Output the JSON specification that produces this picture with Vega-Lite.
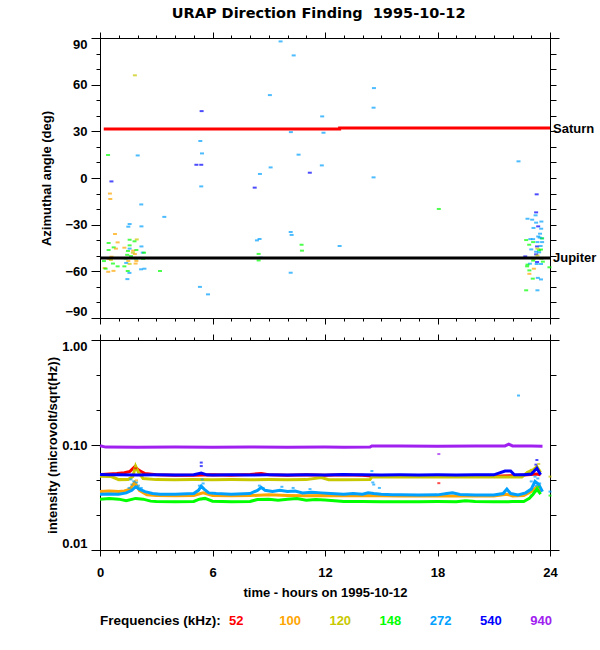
{
  "$schema": "https://vega.github.io/schema/vega-lite/v6.json",
  "padding": {"left": 40, "top": 6, "right": 2, "bottom": 2},
  "background": "white",
  "title": {
    "text": "URAP Direction Finding\u00a0 1995-10-12",
    "font": "DejaVu Sans",
    "fontSize": 14.5,
    "fontWeight": "bold",
    "color": "black",
    "anchor": "middle",
    "offset": 10
  },
  "datasets": {
    "df": [
      {"t": 1.86, "a": 66, "f": "120"},
      {"t": 5.42, "a": 43, "f": "540"},
      {"t": 0.43, "a": 14.8, "f": "148"},
      {"t": 2.01, "a": 14.5, "f": "272"},
      {"t": 0.61, "a": -2.2, "f": "540"},
      {"t": 0.53, "a": -10, "f": "100"},
      {"t": 0.55, "a": -13.5, "f": "100"},
      {"t": 2.2, "a": -17, "f": "272"},
      {"t": 3.43, "a": -25, "f": "272"},
      {"t": 1.58, "a": -29.6, "f": "272"},
      {"t": 1.51, "a": -31.3, "f": "272"},
      {"t": 2.21, "a": -31.1, "f": "272"},
      {"t": 5.35, "a": 23.8, "f": "272"},
      {"t": 5.44, "a": 15.8, "f": "272"},
      {"t": 5.14, "a": 8.5, "f": "540"},
      {"t": 5.4, "a": 8.5, "f": "540"},
      {"t": 5.4, "a": -5.4, "f": "272"},
      {"t": 5.33, "a": -70, "f": "272"},
      {"t": 5.76, "a": -74.8, "f": "272"},
      {"t": 3.2, "a": -59.8, "f": "148"},
      {"t": 1.46, "a": -65, "f": "272"},
      {"t": 0.8, "a": -36, "f": "100"},
      {"t": 0.46, "a": -41.8, "f": "148"},
      {"t": 0.94, "a": -41.4, "f": "100"},
      {"t": 0.73, "a": -44.6, "f": "148"},
      {"t": 0.85, "a": -45.4, "f": "100"},
      {"t": 0.46, "a": -46.3, "f": "148"},
      {"t": 0.61, "a": -50.6, "f": "100"},
      {"t": 0.46, "a": -52, "f": "100"},
      {"t": 0.21, "a": -53.4, "f": "148"},
      {"t": 0.58, "a": -52.7, "f": "120"},
      {"t": 0.69, "a": -55, "f": "148"},
      {"t": 0.94, "a": -56.8, "f": "148"},
      {"t": 0.25, "a": -57.9, "f": "100"},
      {"t": 0.3, "a": -58.3, "f": "148"},
      {"t": 0.44, "a": -60.3, "f": "100"},
      {"t": 0.72, "a": -59.7, "f": "100"},
      {"t": 1.58, "a": -39.7, "f": "148"},
      {"t": 1.3, "a": -44.8, "f": "100"},
      {"t": 1.58, "a": -43.3, "f": "148"},
      {"t": 1.58, "a": -45.4, "f": "272"},
      {"t": 1.49, "a": -46.9, "f": "148"},
      {"t": 1.77, "a": -46.7, "f": "100"},
      {"t": 1.94, "a": -46.3, "f": "148"},
      {"t": 1.96, "a": -39.5, "f": "120"},
      {"t": 1.84, "a": -40.7, "f": "148"},
      {"t": 1.45, "a": -49.4, "f": "148"},
      {"t": 1.86, "a": -48.9, "f": "100"},
      {"t": 2.28, "a": -48, "f": "272"},
      {"t": 2.35, "a": -48, "f": "148"},
      {"t": 1.37, "a": -51.8, "f": "148"},
      {"t": 1.4, "a": -54.6, "f": "272"},
      {"t": 1.51, "a": -53.3, "f": "100"},
      {"t": 1.92, "a": -51.8, "f": "148"},
      {"t": 1.94, "a": -53.3, "f": "100"},
      {"t": 1.58, "a": -55.2, "f": "120"},
      {"t": 1.9, "a": -55, "f": "100"},
      {"t": 2.19, "a": -58.7, "f": "272"},
      {"t": 2.37, "a": -58.3, "f": "272"},
      {"t": 1.3, "a": -56.8, "f": "148"},
      {"t": 1.48, "a": -59.8, "f": "148"},
      {"t": 1.57, "a": -61, "f": "272"},
      {"t": 2.21, "a": -44, "f": "272"},
      {"t": 2.1, "a": -51.4, "f": "148"},
      {"t": 2.3, "a": -52, "f": "148"},
      {"t": 1.65, "a": -50.2, "f": "148"},
      {"t": 1.75, "a": -48, "f": "120"},
      {"t": 9.63, "a": 87.8, "f": "272"},
      {"t": 10.33, "a": 78.8, "f": "272"},
      {"t": 14.61, "a": 57.8, "f": "272"},
      {"t": 9.06, "a": 53.3, "f": "272"},
      {"t": 14.59, "a": 45.2, "f": "272"},
      {"t": 11.85, "a": 39.6, "f": "272"},
      {"t": 10.18, "a": 29.5, "f": "272"},
      {"t": 11.92, "a": 29.1, "f": "272"},
      {"t": 10.59, "a": 15, "f": "272"},
      {"t": 9.1, "a": 6.8, "f": "272"},
      {"t": 11.83, "a": 8.1, "f": "272"},
      {"t": 8.53, "a": 2.6, "f": "272"},
      {"t": 11.19, "a": 3.4, "f": "540"},
      {"t": 14.59, "a": 0.4, "f": "272"},
      {"t": 8.25, "a": -6.2, "f": "540"},
      {"t": 10.17, "a": -34.7, "f": "272"},
      {"t": 10.22, "a": -36.6, "f": "272"},
      {"t": 8.37, "a": -40.1, "f": "272"},
      {"t": 8.51, "a": -39.2, "f": "272"},
      {"t": 10.75, "a": -42.9, "f": "148"},
      {"t": 10.77, "a": -46.7, "f": "148"},
      {"t": 12.78, "a": -43.7, "f": "272"},
      {"t": 8.46, "a": -48.8, "f": "148"},
      {"t": 8.57, "a": -51.2, "f": "272"},
      {"t": 8.46, "a": -53, "f": "148"},
      {"t": 10.17, "a": -60.9, "f": "272"},
      {"t": 18.07, "a": -19.9, "f": "148"},
      {"t": 22.32, "a": 10.7, "f": "272"},
      {"t": 23.29, "a": -10.5, "f": "540"},
      {"t": 23.26, "a": -22.1, "f": "540"},
      {"t": 23.23, "a": -24, "f": "272"},
      {"t": 22.8, "a": -26.2, "f": "272"},
      {"t": 23.05, "a": -26.8, "f": "272"},
      {"t": 23.54, "a": -28, "f": "272"},
      {"t": 23.26, "a": -28.7, "f": "272"},
      {"t": 23.37, "a": -31.1, "f": "540"},
      {"t": 23.12, "a": -32.1, "f": "272"},
      {"t": 23.53, "a": -32.6, "f": "272"},
      {"t": 23.47, "a": -35.8, "f": "272"},
      {"t": 22.95, "a": -39.3, "f": "272"},
      {"t": 23.1, "a": -39.3, "f": "272"},
      {"t": 22.73, "a": -39.9, "f": "148"},
      {"t": 23.37, "a": -37.6, "f": "272"},
      {"t": 23.58, "a": -38.8, "f": "272"},
      {"t": 23.56, "a": -38.8, "f": "148"},
      {"t": 23.33, "a": -41.2, "f": "272"},
      {"t": 23.1, "a": -41.2, "f": "148"},
      {"t": 22.89, "a": -42.9, "f": "148"},
      {"t": 23.58, "a": -41.2, "f": "272"},
      {"t": 23.31, "a": -44, "f": "540"},
      {"t": 23.0, "a": -45.9, "f": "272"},
      {"t": 23.33, "a": -45.4, "f": "120"},
      {"t": 23.42, "a": -46.5, "f": "148"},
      {"t": 23.52, "a": -46, "f": "148"},
      {"t": 23.26, "a": -47.4, "f": "272"},
      {"t": 23.42, "a": -47.8, "f": "272"},
      {"t": 23.26, "a": -49.1, "f": "540"},
      {"t": 23.54, "a": -51.9, "f": "120"},
      {"t": 23.05, "a": -51.4, "f": "120"},
      {"t": 23.58, "a": -51.6, "f": "272"},
      {"t": 23.1, "a": -53.1, "f": "148"},
      {"t": 23.31, "a": -54, "f": "540"},
      {"t": 22.93, "a": -55.1, "f": "272"},
      {"t": 22.8, "a": -55.7, "f": "148"},
      {"t": 22.78, "a": -56.8, "f": "148"},
      {"t": 23.29, "a": -55.3, "f": "272"},
      {"t": 23.52, "a": -55.3, "f": "272"},
      {"t": 23.14, "a": -58.3, "f": "100"},
      {"t": 22.9, "a": -59.4, "f": "148"},
      {"t": 22.9, "a": -61.6, "f": "100"},
      {"t": 23.08, "a": -64.7, "f": "148"},
      {"t": 23.52, "a": -65.2, "f": "272"},
      {"t": 23.35, "a": -64.2, "f": "272"},
      {"t": 22.73, "a": -72.2, "f": "148"},
      {"t": 23.33, "a": -72.2, "f": "272"},
      {"t": 22.68, "a": -50.4, "f": "540"},
      {"t": 23.97, "a": -57.4, "f": "148"},
      {"t": 23.14, "a": -51.9, "f": "120"},
      {"t": 23.33, "a": -49.8, "f": "120"},
      {"t": 23.5, "a": -43.7, "f": "272"},
      {"t": 23.45, "a": -38.3, "f": "272"},
      {"t": 23.62, "a": -53.8, "f": "148"}
    ],
    "planetlines": [
      {"body": "Saturn", "t": 0.2, "a": 31.5},
      {"body": "Saturn", "t": 12.78, "a": 31.5},
      {"body": "Saturn", "t": 12.78, "a": 32.1},
      {"body": "Saturn", "t": 24, "a": 32.1},
      {"body": "Jupiter", "t": 0, "a": -51.4},
      {"body": "Jupiter", "t": 24, "a": -51.4}
    ],
    "planetnames": [
      {"body": "Saturn", "t": 24, "a": 31.8},
      {"body": "Jupiter", "t": 24, "a": -51.4}
    ],
    "intensity": [
      {"f": "52", "t": 0.1, "v": 0.0525}, {"f": "52", "t": 0.5, "v": 0.053}, {"f": "52", "t": 0.9, "v": 0.0535},
      {"f": "52", "t": 1.3, "v": 0.0545}, {"f": "52", "t": 1.6, "v": 0.056}, {"f": "52", "t": 1.85, "v": 0.062},
      {"f": "52", "t": 2.1, "v": 0.057}, {"f": "52", "t": 2.4, "v": 0.0535}, {"f": "52", "t": 3, "v": 0.052},
      {"f": "52", "t": 4, "v": 0.0515}, {"f": "52", "t": 5, "v": 0.0515}, {"f": "52", "t": 6, "v": 0.052},
      {"f": "52", "t": 7, "v": 0.0515}, {"f": "52", "t": 8, "v": 0.0525}, {"f": "52", "t": 8.6, "v": 0.0535},
      {"f": "52", "t": 9, "v": 0.052}, {"f": "52", "t": 10, "v": 0.0515}, {"f": "52", "t": 11, "v": 0.052},
      {"f": "52", "t": 12, "v": 0.0515}, {"f": "52", "t": 13, "v": 0.052}, {"f": "52", "t": 14, "v": 0.0515},
      {"f": "52", "t": 14.6, "v": 0.0505}, {"f": "52", "t": 16, "v": 0.0505}, {"f": "52", "t": 17, "v": 0.0505},
      {"f": "52", "t": 18, "v": 0.0505}, {"f": "52", "t": 19, "v": 0.0505}, {"f": "52", "t": 20, "v": 0.0505},
      {"f": "52", "t": 21, "v": 0.0505}, {"f": "52", "t": 22, "v": 0.051}, {"f": "52", "t": 22.8, "v": 0.052},
      {"f": "52", "t": 23.3, "v": 0.053}, {"f": "52", "t": 23.5, "v": 0.052},
      {"f": "100", "t": 0, "v": 0.036}, {"f": "100", "t": 0.5, "v": 0.0365}, {"f": "100", "t": 1, "v": 0.036},
      {"f": "100", "t": 1.3, "v": 0.0365}, {"f": "100", "t": 1.6, "v": 0.038}, {"f": "100", "t": 1.85, "v": 0.044},
      {"f": "100", "t": 2.1, "v": 0.037}, {"f": "100", "t": 2.5, "v": 0.0335}, {"f": "100", "t": 3, "v": 0.033},
      {"f": "100", "t": 4, "v": 0.0328}, {"f": "100", "t": 5, "v": 0.033}, {"f": "100", "t": 5.5, "v": 0.035},
      {"f": "100", "t": 6, "v": 0.033}, {"f": "100", "t": 7, "v": 0.0328}, {"f": "100", "t": 8, "v": 0.033},
      {"f": "100", "t": 9, "v": 0.0335}, {"f": "100", "t": 10, "v": 0.033}, {"f": "100", "t": 11, "v": 0.0328},
      {"f": "100", "t": 12, "v": 0.033}, {"f": "100", "t": 13, "v": 0.0328}, {"f": "100", "t": 14, "v": 0.033},
      {"f": "100", "t": 15, "v": 0.0328}, {"f": "100", "t": 16, "v": 0.0326}, {"f": "100", "t": 17, "v": 0.0326},
      {"f": "100", "t": 18, "v": 0.0327}, {"f": "100", "t": 19, "v": 0.0326}, {"f": "100", "t": 20, "v": 0.0326},
      {"f": "100", "t": 21, "v": 0.0327}, {"f": "100", "t": 21.7, "v": 0.034}, {"f": "100", "t": 22, "v": 0.0327},
      {"f": "100", "t": 22.6, "v": 0.033}, {"f": "100", "t": 23, "v": 0.036}, {"f": "100", "t": 23.3, "v": 0.04},
      {"f": "100", "t": 23.5, "v": 0.036},
      {"f": "120", "t": 0, "v": 0.0505}, {"f": "120", "t": 0.6, "v": 0.05}, {"f": "120", "t": 1, "v": 0.0468},
      {"f": "120", "t": 1.5, "v": 0.047}, {"f": "120", "t": 1.75, "v": 0.05}, {"f": "120", "t": 1.9, "v": 0.063},
      {"f": "120", "t": 2.05, "v": 0.055}, {"f": "120", "t": 2.3, "v": 0.048}, {"f": "120", "t": 3, "v": 0.0468},
      {"f": "120", "t": 4, "v": 0.0466}, {"f": "120", "t": 5, "v": 0.0468}, {"f": "120", "t": 6, "v": 0.0466},
      {"f": "120", "t": 7, "v": 0.0468}, {"f": "120", "t": 8, "v": 0.0466}, {"f": "120", "t": 9, "v": 0.0468},
      {"f": "120", "t": 10, "v": 0.0466}, {"f": "120", "t": 11, "v": 0.0468}, {"f": "120", "t": 11.8, "v": 0.049},
      {"f": "120", "t": 12.2, "v": 0.0467}, {"f": "120", "t": 13, "v": 0.0467}, {"f": "120", "t": 14.4, "v": 0.0468},
      {"f": "120", "t": 14.5, "v": 0.0497}, {"f": "120", "t": 15.5, "v": 0.0497}, {"f": "120", "t": 16.5, "v": 0.0495},
      {"f": "120", "t": 17.5, "v": 0.0497}, {"f": "120", "t": 18.5, "v": 0.0495}, {"f": "120", "t": 19.5, "v": 0.0497},
      {"f": "120", "t": 20.5, "v": 0.0495}, {"f": "120", "t": 21.5, "v": 0.0497}, {"f": "120", "t": 22.5, "v": 0.0497},
      {"f": "120", "t": 22.8, "v": 0.055}, {"f": "120", "t": 23.1, "v": 0.058}, {"f": "120", "t": 23.3, "v": 0.062},
      {"f": "120", "t": 23.5, "v": 0.055},
      {"f": "148", "t": 0, "v": 0.0305}, {"f": "148", "t": 0.5, "v": 0.031}, {"f": "148", "t": 1, "v": 0.0305},
      {"f": "148", "t": 1.4, "v": 0.0295}, {"f": "148", "t": 1.9, "v": 0.031}, {"f": "148", "t": 2.3, "v": 0.0305},
      {"f": "148", "t": 2.7, "v": 0.0292}, {"f": "148", "t": 3, "v": 0.029}, {"f": "148", "t": 4, "v": 0.0288},
      {"f": "148", "t": 5, "v": 0.029}, {"f": "148", "t": 5.3, "v": 0.0305}, {"f": "148", "t": 5.6, "v": 0.031},
      {"f": "148", "t": 6, "v": 0.0292}, {"f": "148", "t": 7, "v": 0.0288}, {"f": "148", "t": 8, "v": 0.029},
      {"f": "148", "t": 8.4, "v": 0.0303}, {"f": "148", "t": 9, "v": 0.0305}, {"f": "148", "t": 9.5, "v": 0.0298},
      {"f": "148", "t": 10, "v": 0.0305}, {"f": "148", "t": 10.5, "v": 0.031}, {"f": "148", "t": 11, "v": 0.0298},
      {"f": "148", "t": 11.5, "v": 0.0302}, {"f": "148", "t": 12, "v": 0.03}, {"f": "148", "t": 12.5, "v": 0.0295},
      {"f": "148", "t": 13, "v": 0.029}, {"f": "148", "t": 14, "v": 0.0289}, {"f": "148", "t": 15, "v": 0.0288},
      {"f": "148", "t": 16, "v": 0.0288}, {"f": "148", "t": 17, "v": 0.0288}, {"f": "148", "t": 18, "v": 0.0289},
      {"f": "148", "t": 19, "v": 0.0288}, {"f": "148", "t": 19.5, "v": 0.0295}, {"f": "148", "t": 20, "v": 0.0289},
      {"f": "148", "t": 21, "v": 0.0288}, {"f": "148", "t": 22, "v": 0.0289}, {"f": "148", "t": 22.6, "v": 0.029},
      {"f": "148", "t": 22.9, "v": 0.031}, {"f": "148", "t": 23.1, "v": 0.034}, {"f": "148", "t": 23.3, "v": 0.038},
      {"f": "148", "t": 23.5, "v": 0.034},
      {"f": "272", "t": 0, "v": 0.034}, {"f": "272", "t": 0.5, "v": 0.0342}, {"f": "272", "t": 1, "v": 0.034},
      {"f": "272", "t": 1.4, "v": 0.035}, {"f": "272", "t": 1.7, "v": 0.037}, {"f": "272", "t": 1.9, "v": 0.04},
      {"f": "272", "t": 2.1, "v": 0.038}, {"f": "272", "t": 2.4, "v": 0.036}, {"f": "272", "t": 2.8, "v": 0.0345},
      {"f": "272", "t": 3.2, "v": 0.034}, {"f": "272", "t": 4, "v": 0.034}, {"f": "272", "t": 5, "v": 0.0345},
      {"f": "272", "t": 5.25, "v": 0.037}, {"f": "272", "t": 5.4, "v": 0.0405}, {"f": "272", "t": 5.55, "v": 0.038},
      {"f": "272", "t": 5.8, "v": 0.035}, {"f": "272", "t": 6.2, "v": 0.0345}, {"f": "272", "t": 7, "v": 0.034},
      {"f": "272", "t": 8, "v": 0.0345}, {"f": "272", "t": 8.4, "v": 0.037}, {"f": "272", "t": 8.6, "v": 0.0395},
      {"f": "272", "t": 8.8, "v": 0.037}, {"f": "272", "t": 9.2, "v": 0.036}, {"f": "272", "t": 9.6, "v": 0.037},
      {"f": "272", "t": 10, "v": 0.036}, {"f": "272", "t": 10.4, "v": 0.0365}, {"f": "272", "t": 10.8, "v": 0.035},
      {"f": "272", "t": 11.3, "v": 0.0355}, {"f": "272", "t": 11.8, "v": 0.035}, {"f": "272", "t": 12.3, "v": 0.0345},
      {"f": "272", "t": 13, "v": 0.034}, {"f": "272", "t": 13.5, "v": 0.0345}, {"f": "272", "t": 14, "v": 0.034},
      {"f": "272", "t": 14.3, "v": 0.035}, {"f": "272", "t": 14.6, "v": 0.0345}, {"f": "272", "t": 15, "v": 0.034},
      {"f": "272", "t": 15.6, "v": 0.0335}, {"f": "272", "t": 16, "v": 0.0335}, {"f": "272", "t": 17, "v": 0.0334},
      {"f": "272", "t": 18, "v": 0.0335}, {"f": "272", "t": 18.5, "v": 0.0345}, {"f": "272", "t": 18.8, "v": 0.035},
      {"f": "272", "t": 19.2, "v": 0.0338}, {"f": "272", "t": 20, "v": 0.0334}, {"f": "272", "t": 21, "v": 0.0334},
      {"f": "272", "t": 21.5, "v": 0.0345}, {"f": "272", "t": 21.7, "v": 0.038}, {"f": "272", "t": 21.9, "v": 0.0345},
      {"f": "272", "t": 22.3, "v": 0.0334}, {"f": "272", "t": 22.7, "v": 0.035}, {"f": "272", "t": 23, "v": 0.038},
      {"f": "272", "t": 23.2, "v": 0.045}, {"f": "272", "t": 23.4, "v": 0.042}, {"f": "272", "t": 23.6, "v": 0.036},
      {"f": "540", "t": 0, "v": 0.0525}, {"f": "540", "t": 0.5, "v": 0.052}, {"f": "540", "t": 1, "v": 0.052},
      {"f": "540", "t": 2, "v": 0.0519}, {"f": "540", "t": 3, "v": 0.052}, {"f": "540", "t": 4, "v": 0.0518},
      {"f": "540", "t": 5, "v": 0.052}, {"f": "540", "t": 5.4, "v": 0.054}, {"f": "540", "t": 5.7, "v": 0.052},
      {"f": "540", "t": 6, "v": 0.0519}, {"f": "540", "t": 7, "v": 0.052}, {"f": "540", "t": 8, "v": 0.0519},
      {"f": "540", "t": 9, "v": 0.052}, {"f": "540", "t": 10, "v": 0.0519}, {"f": "540", "t": 11, "v": 0.052},
      {"f": "540", "t": 12, "v": 0.0519}, {"f": "540", "t": 13, "v": 0.0525}, {"f": "540", "t": 13.5, "v": 0.052},
      {"f": "540", "t": 14, "v": 0.052}, {"f": "540", "t": 15, "v": 0.0519}, {"f": "540", "t": 16, "v": 0.052},
      {"f": "540", "t": 17, "v": 0.0519}, {"f": "540", "t": 18, "v": 0.052}, {"f": "540", "t": 19, "v": 0.0519},
      {"f": "540", "t": 20, "v": 0.052}, {"f": "540", "t": 21, "v": 0.052}, {"f": "540", "t": 21.6, "v": 0.0565},
      {"f": "540", "t": 21.9, "v": 0.0565}, {"f": "540", "t": 22.1, "v": 0.052}, {"f": "540", "t": 22.6, "v": 0.052},
      {"f": "540", "t": 23, "v": 0.053}, {"f": "540", "t": 23.3, "v": 0.06}, {"f": "540", "t": 23.5, "v": 0.052},
      {"f": "940", "t": 0, "v": 0.0985}, {"f": "940", "t": 0.3, "v": 0.0955}, {"f": "940", "t": 2, "v": 0.0952},
      {"f": "940", "t": 4, "v": 0.0955}, {"f": "940", "t": 6, "v": 0.0952}, {"f": "940", "t": 8, "v": 0.0955},
      {"f": "940", "t": 10, "v": 0.0952}, {"f": "940", "t": 12, "v": 0.0955}, {"f": "940", "t": 13, "v": 0.0952},
      {"f": "940", "t": 14.4, "v": 0.0955}, {"f": "940", "t": 14.5, "v": 0.098}, {"f": "940", "t": 16, "v": 0.098},
      {"f": "940", "t": 18, "v": 0.0975}, {"f": "940", "t": 20, "v": 0.098}, {"f": "940", "t": 21.6, "v": 0.098},
      {"f": "940", "t": 21.8, "v": 0.102}, {"f": "940", "t": 22, "v": 0.098}, {"f": "940", "t": 23, "v": 0.098},
      {"f": "940", "t": 23.6, "v": 0.0975}
    ],
    "dots": [
      {"g": 1, "f": "272", "t": 1.55, "v": 0.039}, {"g": 1, "f": "272", "t": 1.7, "v": 0.042},
      {"g": 1, "f": "272", "t": 1.8, "v": 0.045}, {"g": 1, "f": "272", "t": 1.95, "v": 0.044},
      {"g": 1, "f": "272", "t": 2.05, "v": 0.041}, {"g": 1, "f": "272", "t": 2.2, "v": 0.039},
      {"g": 1, "f": "272", "t": 1.65, "v": 0.047}, {"g": 1, "f": "272", "t": 5.3, "v": 0.041},
      {"g": 1, "f": "272", "t": 5.45, "v": 0.047}, {"g": 1, "f": "272", "t": 5.5, "v": 0.043},
      {"g": 1, "f": "272", "t": 8.5, "v": 0.041}, {"g": 1, "f": "272", "t": 8.7, "v": 0.039},
      {"g": 1, "f": "272", "t": 9.7, "v": 0.04}, {"g": 1, "f": "272", "t": 10.3, "v": 0.039},
      {"g": 1, "f": "272", "t": 11.2, "v": 0.038}, {"g": 1, "f": "272", "t": 14.5, "v": 0.0565},
      {"g": 1, "f": "272", "t": 14.55, "v": 0.044}, {"g": 1, "f": "272", "t": 14.6, "v": 0.042},
      {"g": 1, "f": "272", "t": 14.9, "v": 0.039}, {"g": 1, "f": "272", "t": 22.32, "v": 0.296},
      {"g": 1, "f": "272", "t": 23.0, "v": 0.045}, {"g": 1, "f": "272", "t": 23.2, "v": 0.05},
      {"g": 1, "f": "272", "t": 23.35, "v": 0.048}, {"g": 1, "f": "272", "t": 23.45, "v": 0.043},
      {"g": 1, "f": "272", "t": 23.25, "v": 0.041}, {"g": 1, "f": "272", "t": 24.0, "v": 0.036},
      {"g": 2, "f": "540", "t": 5.4, "v": 0.068}, {"g": 2, "f": "540", "t": 5.4, "v": 0.063},
      {"g": 2, "f": "540", "t": 23.3, "v": 0.072}, {"g": 2, "f": "540", "t": 23.25, "v": 0.065},
      {"g": 2, "f": "940", "t": 18.07, "v": 0.082}, {"g": 2, "f": "52", "t": 18.07, "v": 0.0433},
      {"g": 2, "f": "52", "t": 1.9, "v": 0.06}, {"g": 2, "f": "100", "t": 1.8, "v": 0.042},
      {"g": 2, "f": "100", "t": 1.95, "v": 0.046}, {"g": 2, "f": "120", "t": 23.0, "v": 0.058},
      {"g": 2, "f": "120", "t": 23.4, "v": 0.066}, {"g": 2, "f": "120", "t": 24.0, "v": 0.05},
      {"g": 2, "f": "148", "t": 23.0, "v": 0.033}, {"g": 2, "f": "148", "t": 23.2, "v": 0.036},
      {"g": 2, "f": "148", "t": 23.4, "v": 0.04}, {"g": 2, "f": "148", "t": 24.0, "v": 0.033}
    ]
  },
  "vconcat": [
    {
      "width": 450,
      "height": 280,
      "layer": [
        {
          "data": {"name": "df"},
          "mark": {"type": "tick", "orient": "horizontal", "size": 4, "thickness": 2},
          "encoding": {
            "x": {"field": "t", "type": "quantitative", "scale": {"domain": [0, 24], "nice": false, "zero": false},
              "axis": {"orient": "bottom", "values": [0, 6, 12, 18, 24], "labels": false, "tickSize": 6, "title": null}},
            "y": {"field": "a", "type": "quantitative", "scale": {"domain": [-90, 90], "nice": false, "zero": false},
              "axis": {"orient": "left", "values": [-90, -60, -30, 0, 30, 60, 90], "tickSize": 9, "labelPadding": 4, "title": "Azimuthal angle (deg)", "titlePadding": 11}},
            "color": {"field": "f", "type": "nominal",
              "scale": {"domain": ["52", "100", "120", "148", "272", "540", "940"], "range": ["#ff0000", "#ffa500", "#c8c800", "#00ff00", "#00a0ff", "#0000ff", "#a020f0"]},
              "legend": null}
          }
        },
        {
          "data": {"name": "planetlines"},
          "transform": [{"filter": "datum.body == 'Saturn'"}],
          "mark": {"type": "line", "strokeWidth": 3, "color": "#ff0000"},
          "encoding": {
            "x": {"field": "t", "type": "quantitative", "scale": {"domain": [0, 24], "nice": false, "zero": false},
              "axis": {"orient": "bottom", "values": [0, 1, 2, 3, 4, 5, 6, 7, 8, 9, 10, 11, 12, 13, 14, 15, 16, 17, 18, 19, 20, 21, 22, 23, 24], "labels": false, "domain": false, "tickSize": 3, "title": null}},
            "y": {"field": "a", "type": "quantitative", "scale": {"domain": [-90, 90], "nice": false, "zero": false},
              "axis": {"orient": "left", "values": [-80, -70, -50, -40, -20, -10, 10, 20, 40, 50, 70, 80], "labels": false, "domain": false, "tickSize": 4, "title": null}}
          }
        },
        {
          "data": {"name": "planetlines"},
          "transform": [{"filter": "datum.body == 'Jupiter'"}],
          "mark": {"type": "line", "strokeWidth": 3, "color": "#000000"},
          "encoding": {
            "x": {"field": "t", "type": "quantitative", "scale": {"domain": [0, 24], "nice": false, "zero": false},
              "axis": {"orient": "top", "values": [0, 6, 12, 18, 24], "labels": false, "tickSize": 6, "title": null}},
            "y": {"field": "a", "type": "quantitative", "scale": {"domain": [-90, 90], "nice": false, "zero": false},
              "axis": {"orient": "right", "values": [-80, -70, -60, -50, -40, -30, -20, -10, 0, 10, 20, 30, 40, 50, 60, 70, 80], "labels": false, "tickSize": 6, "title": null}}
          }
        },
        {
          "data": {"name": "planetnames"},
          "mark": {"type": "text", "align": "left", "baseline": "middle", "dx": 3, "font": "Liberation Sans", "fontSize": 13, "fontWeight": "bold", "color": "black"},
          "encoding": {
            "x": {"field": "t", "type": "quantitative", "scale": {"domain": [0, 24], "nice": false, "zero": false},
              "axis": {"orient": "top", "values": [0, 1, 2, 3, 4, 5, 6, 7, 8, 9, 10, 11, 12, 13, 14, 15, 16, 17, 18, 19, 20, 21, 22, 23, 24], "labels": false, "domain": false, "tickSize": 3, "title": null}},
            "y": {"field": "a", "type": "quantitative", "scale": {"domain": [-90, 90], "nice": false, "zero": false},
              "axis": {"orient": "right", "values": [-90, 90], "labels": false, "domain": false, "tickSize": 9, "title": null}},
            "text": {"field": "body"}
          }
        }
      ],
      "resolve": {"axis": {"x": "independent", "y": "independent"}}
    },
    {
      "width": 450,
      "height": 210,
      "layer": [
        {
          "data": {"name": "intensity"},
          "transform": [{"filter": "datum.f == '52' || datum.f == '100' || datum.f == '120' || datum.f == '148'"}],
          "mark": {"type": "line", "strokeWidth": 3},
          "encoding": {
            "x": {"field": "t", "type": "quantitative", "scale": {"domain": [0, 24], "nice": false, "zero": false},
              "axis": {"orient": "bottom", "values": [0, 6, 12, 18, 24], "tickSize": 6, "labelPadding": 10, "labelFlush": false, "title": "time - hours on 1995-10-12", "titlePadding": 7}},
            "y": {"field": "v", "type": "quantitative", "scale": {"type": "log", "domain": [0.01, 1], "nice": false},
              "axis": {"orient": "left", "values": [0.01, 0.1, 1], "format": ".2f", "tickSize": 9, "labelPadding": 4, "title": "intensity (microvolt/sqrt(Hz))", "titlePadding": 2}},
            "color": {"field": "f", "type": "nominal",
              "scale": {"domain": ["52", "100", "120", "148", "272", "540", "940"], "range": ["#ff0000", "#ffa500", "#c8c800", "#00ff00", "#00a0ff", "#0000ff", "#a020f0"]},
              "legend": {
                "title": "Frequencies (kHz):",
                "orient": "bottom",
                "direction": "horizontal",
                "titleOrient": "left",
                "titlePadding": -5,
                "titleFont": "Liberation Sans",
                "titleFontSize": 13.5,
                "titleFontWeight": "bold",
                "titleColor": "black",
                "labelFont": "Liberation Sans",
                "labelFontSize": 13,
                "labelFontWeight": "bold",
                "labelColor": {"expr": "datum.label == '52' ? '#ff0000' : datum.label == '100' ? '#ffa500' : datum.label == '120' ? '#c8c800' : datum.label == '148' ? '#00ff00' : datum.label == '272' ? '#00a0ff' : datum.label == '540' ? '#0000ff' : '#a020f0'"},
                "symbolSize": 0,
                "symbolOpacity": 0,
                "symbolStrokeWidth": 0,
                "labelOffset": 0,
                "gridAlign": "all",
                "columnPadding": 15.2,
                "offset": 15
              }},
            "detail": {"field": "f"}
          }
        },
        {
          "data": {"name": "intensity"},
          "transform": [{"filter": "datum.f == '272' || datum.f == '540' || datum.f == '940'"}],
          "mark": {"type": "line", "strokeWidth": 3},
          "encoding": {
            "x": {"field": "t", "type": "quantitative", "scale": {"domain": [0, 24], "nice": false, "zero": false},
              "axis": {"orient": "bottom", "values": [0, 1, 2, 3, 4, 5, 6, 7, 8, 9, 10, 11, 12, 13, 14, 15, 16, 17, 18, 19, 20, 21, 22, 23, 24], "labels": false, "domain": false, "tickSize": 3, "title": null}},
            "y": {"field": "v", "type": "quantitative", "scale": {"type": "log", "domain": [0.01, 1], "nice": false},
              "axis": {"orient": "left", "values": [0.021544, 0.046416, 0.21544, 0.46416], "labels": false, "domain": false, "tickSize": 4, "title": null}},
            "color": {"field": "f", "type": "nominal"}
          }
        },
        {
          "data": {"name": "dots"},
          "transform": [{"filter": "datum.g == 1"}],
          "mark": {"type": "tick", "orient": "horizontal", "size": 3, "thickness": 2},
          "encoding": {
            "x": {"field": "t", "type": "quantitative", "scale": {"domain": [0, 24], "nice": false, "zero": false},
              "axis": {"orient": "top", "values": [0, 6, 12, 18, 24], "labels": false, "tickSize": 6, "title": null}},
            "y": {"field": "v", "type": "quantitative", "scale": {"type": "log", "domain": [0.01, 1], "nice": false},
              "axis": {"orient": "right", "values": [0.021544, 0.046416, 0.1, 0.21544, 0.46416], "labels": false, "tickSize": 6, "title": null}},
            "color": {"field": "f", "type": "nominal"}
          }
        },
        {
          "data": {"name": "dots"},
          "transform": [{"filter": "datum.g == 2"}],
          "mark": {"type": "tick", "orient": "horizontal", "size": 3, "thickness": 2},
          "encoding": {
            "x": {"field": "t", "type": "quantitative", "scale": {"domain": [0, 24], "nice": false, "zero": false},
              "axis": {"orient": "top", "values": [0, 1, 2, 3, 4, 5, 6, 7, 8, 9, 10, 11, 12, 13, 14, 15, 16, 17, 18, 19, 20, 21, 22, 23, 24], "labels": false, "domain": false, "tickSize": 3, "title": null}},
            "y": {"field": "v", "type": "quantitative", "scale": {"type": "log", "domain": [0.01, 1], "nice": false},
              "axis": {"orient": "right", "values": [0.01, 1], "labels": false, "domain": false, "tickSize": 9, "title": null}},
            "color": {"field": "f", "type": "nominal"}
          }
        }
      ],
      "resolve": {"axis": {"x": "independent", "y": "independent"}}
    }
  ],
  "spacing": 8,
  "resolve": {"scale": {"color": "independent"}},
  "config": {
    "view": {"stroke": null},
    "axis": {
      "grid": false,
      "domainColor": "black",
      "domainWidth": 1,
      "tickColor": "black",
      "tickWidth": 1,
      "labelColor": "black",
      "titleColor": "black",
      "labelFont": "Liberation Sans",
      "labelFontSize": 13,
      "labelFontWeight": "bold",
      "titleFont": "Liberation Sans",
      "titleFontSize": 13,
      "titleFontWeight": "bold"
    },
    "axisY": {"labelFlush": true}
  }
}
